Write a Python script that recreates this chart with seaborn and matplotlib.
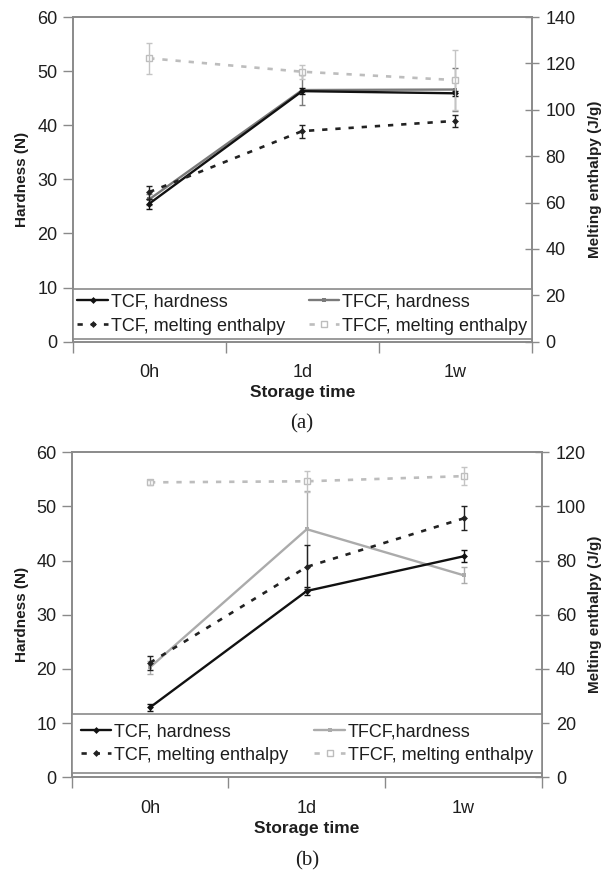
import matplotlib
matplotlib.use("Agg")
import matplotlib.pyplot as plt
import seaborn as sns
from matplotlib.ticker import FixedLocator

sns.set_style("white")
plt.rcParams['font.family'] = ['Liberation Sans', 'DejaVu Sans']

times = ["0h", "1d", "1w"]

# Panel (a)
a_tcf_hard = [25.5, 46.3, 45.9]
a_tcf_hard_err = [0.9, 0.5, 0.5]
a_tfcf_hard = [26.3, 46.5, 46.6]
a_tfcf_hard_err = [1.0, 2.7, 4.0]
a_tcf_enth = [64.5, 90.8, 95.2]
a_tcf_enth_err = [2.8, 2.8, 2.5]
a_tfcf_enth = [122.2, 116.4, 112.8]
a_tfcf_enth_err = [6.6, 3.0, 12.8]

# Panel (b)
b_tcf_hard = [12.9, 34.4, 40.8]
b_tcf_hard_err = [0.7, 0.8, 1.1]
b_tfcf_hard = [20.3, 45.8, 37.3]
b_tfcf_hard_err = [1.2, 7.0, 1.5]
b_tcf_enth = [42.3, 77.7, 95.6]
b_tcf_enth_err = [2.6, 8.0, 4.4]
b_tfcf_enth = [108.9, 109.3, 111.2]
b_tfcf_enth_err = [1.0, 3.8, 3.4]

labels_a = ["TCF, hardness", "TFCF, hardness", "TCF, melting enthalpy", "TFCF, melting enthalpy"]
labels_b = ["TCF, hardness", "TFCF,hardness", "TCF, melting enthalpy", "TFCF, melting enthalpy"]

W, H = 606, 871
fig = plt.figure(figsize=(W / 100, H / 100), dpi=100)
ax_a = fig.add_axes([72.7 / W, 1 - 341.7 / H, (531.7 - 72.7) / W, (341.7 - 17) / H])
ax_b = fig.add_axes([71.6 / W, 1 - 777.3 / H, (542 - 71.6) / W, (777.3 - 452.3) / H])

SPINE = "#8a8a8a"
TXT = "#1e1e1e"


def panel(ax, hard1, hard1e, hard2, hard2e, en1, en1e, en2, en2e, labels, ymax2,
          gray_hard, leg_bottom, bpad, lspace, left_px, right_px):
    ax2 = ax.twinx()
    # hardness (left axis)
    sns.lineplot(x=times, y=hard1, ax=ax, color="#111111", marker="D", markersize=3.5,
                 markeredgewidth=0, linewidth=1.7, label=labels[0], zorder=4)
    ax.errorbar(times, hard1, yerr=hard1e, fmt="none", ecolor="#111111", elinewidth=1.0,
                capsize=2, zorder=4)
    sns.lineplot(x=times, y=hard2, ax=ax, color=gray_hard, marker="s", markersize=3.5,
                 markeredgewidth=0, linewidth=1.7, label=labels[1], zorder=3)
    ax.errorbar(times, hard2, yerr=hard2e, fmt="none", ecolor=gray_hard, elinewidth=1.0,
                capsize=2, zorder=3)
    # melting enthalpy (right axis)
    sns.lineplot(x=times, y=en1, ax=ax2, color="#222222", marker="D", markersize=3.5,
                 markeredgewidth=0, linewidth=1.9, linestyle=(0, (2, 3)), label=labels[2], zorder=4)
    ax2.errorbar(times, en1, yerr=en1e, fmt="none", ecolor="#222222", elinewidth=1.0,
                 capsize=2, zorder=4)
    sns.lineplot(x=times, y=en2, ax=ax2, color="#bdbdbd", marker="s", markersize=4.5,
                 markerfacecolor="white", markeredgecolor="#bdbdbd", markeredgewidth=1.0,
                 linewidth=1.9, linestyle=(0, (2, 3)), label=labels[3], zorder=3)
    ax2.errorbar(times, en2, yerr=en2e, fmt="none", ecolor="#c4c4c4", elinewidth=1.0,
                 capsize=2, zorder=3)

    for a in (ax, ax2):
        if a.get_legend() is not None:
            a.get_legend().remove()

    ax.set_xlim(-0.5, 2.5)
    ax.set_ylim(0, 60)
    ax.set_yticks(range(0, 61, 10))
    ax2.set_ylim(0, ymax2)
    ax2.set_yticks(range(0, ymax2 + 1, 20))

    ax.xaxis.set_minor_locator(FixedLocator([-0.5, 0.5, 1.5, 2.5]))
    ax.tick_params(axis="x", which="major", length=0, labelsize=13, pad=16, labelcolor=TXT)
    ax.tick_params(axis="x", which="minor", length=8, width=1, color=SPINE,
                   direction="out", bottom=True)
    ax.tick_params(axis="y", length=7, width=1, color=SPINE, direction="out", left=True,
                   labelsize=13, labelcolor=TXT, pad=4)
    ax2.tick_params(axis="y", length=10, width=1, color=SPINE, direction="inout", right=True,
                    labelsize=13, labelcolor=TXT, pad=5)

    for a in (ax, ax2):
        for s in a.spines.values():
            s.set_color(SPINE)
            s.set_linewidth(1.2)
            s.set_visible(True)

    ax.set_xlabel("Storage time", fontsize=12.5, fontweight="bold", labelpad=3, color=TXT)
    ax.set_ylabel("Hardness (N)", fontsize=11, fontweight="bold", color=TXT)
    ax2.set_ylabel("Melting enthalpy (J/g)", fontsize=11, fontweight="bold", color=TXT)

    # place the y labels where the reference has them
    x0 = ax.get_position().x0 * W
    wpx = ax.get_position().width * W
    ax.yaxis.set_label_coords((left_px - x0) / wpx, 0.5)
    ax.yaxis.label.set_va("center")
    ax2.yaxis.set_label_coords((right_px - x0) / wpx, 0.5)
    ax2.yaxis.label.set_va("center")

    h1, l1 = ax.get_legend_handles_labels()
    h2, l2 = ax2.get_legend_handles_labels()
    handles = [h1[0], h2[0], h1[1], h2[1]]
    labs = [l1[0], l2[0], l1[1], l2[1]]
    leg = ax2.legend(handles, labs, ncol=2, mode="expand", loc="lower left",
                     bbox_to_anchor=(0.0, leg_bottom, 1.0, 0.2), fontsize=13,
                     frameon=True, fancybox=False, edgecolor=SPINE, framealpha=1,
                     handlelength=1.7, handletextpad=0.15, borderaxespad=0, borderpad=bpad,
                     labelspacing=lspace, columnspacing=1.0)
    leg.get_frame().set_linewidth(1.2)
    for t in leg.get_texts():
        t.set_color(TXT)
    leg.set_zorder(10)
    return ax2


panel(ax_a, a_tcf_hard, a_tcf_hard_err, a_tfcf_hard, a_tfcf_hard_err,
      a_tcf_enth, a_tcf_enth_err, a_tfcf_enth, a_tfcf_enth_err, labels_a, 140, "#7a7a7a",
      0.008, 0.25, 0.4, 22, 595)
panel(ax_b, b_tcf_hard, b_tcf_hard_err, b_tfcf_hard, b_tfcf_hard_err,
      b_tcf_enth, b_tcf_enth_err, b_tfcf_enth, b_tfcf_enth_err, labels_b, 120, "#ababab",
      0.014, 0.5, 0.35, 22, 595)

fig.text(302 / W, 1 - 424 / H, "(a)", ha="center", va="center", fontsize=15, color=TXT,
         family=["Liberation Serif", "DejaVu Serif"])
fig.text(307 / W, 1 - 861 / H, "(b)", ha="center", va="center", fontsize=15, color=TXT,
         family=["Liberation Serif", "DejaVu Serif"])

fig.savefig("out.png", dpi=100)
